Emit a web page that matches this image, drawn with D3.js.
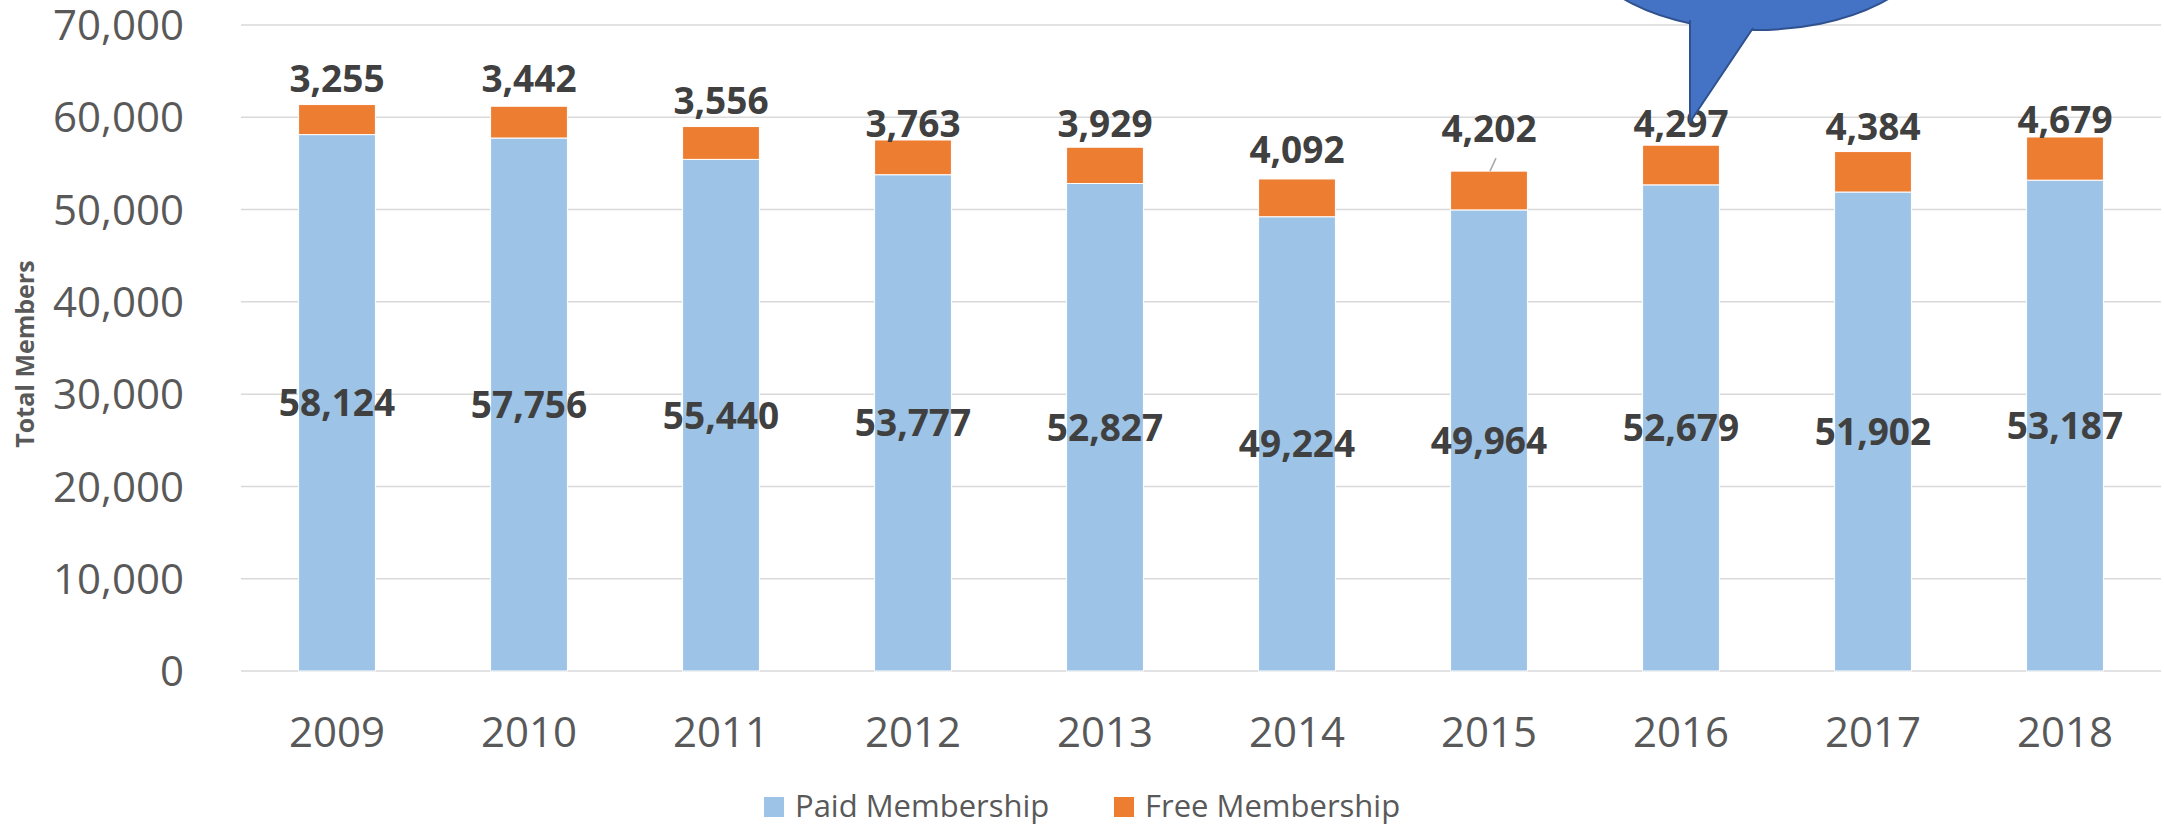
<!DOCTYPE html>
<html>
<head>
<meta charset="utf-8">
<script src="https://cdn.jsdelivr.net/npm/d3@7"></script>
<style>
    body { margin: 0; background: white; }
    svg { display: block; font-family: "Open Sans", Arial, sans-serif; }
</style>
</head>
<body>
<div id="chart"></div>
<script>
// Chart data
const years = ["2009", "2010", "2011", "2012", "2013", "2014", "2015", "2016", "2017", "2018"];
const paidMembership = [58124, 57756, 55440, 53777, 52827, 49224, 49964, 52679, 51902, 53187];
const freeMembership = [3255, 3442, 3556, 3763, 3929, 4092, 4202, 4297, 4384, 4679];
const yTicks = [0, 10000, 20000, 30000, 40000, 50000, 60000, 70000];
const seriesNames = ["Paid Membership", "Free Membership"];

const width = 2164;
const height = 827;
const margin = { top: 25, right: 3, bottom: 156, left: 241 };

const paidColor = "#9DC3E6";
const freeColor = "#ED7D31";

// how far each free label sits above its bar (labels were moved by hand)
const labelGap = { "2009": 13, "2010": 14, "2011": 13, "2012": 3, "2013": 10,
                   "2014": 16, "2015": 29, "2016": 8, "2017": 12, "2018": 4 };

const svg = d3.select("#chart")
    .append("svg")
    .attr("width", width)
    .attr("height", height);

const x = d3.scaleBand()
    .domain(years)
    .range([margin.left, width - margin.right])
    .paddingInner(0.6)
    .paddingOuter(0.3);

const y = d3.scaleLinear()
    .domain([0, 70000])
    .range([height - margin.bottom, margin.top]);

const fmt = d3.format(",");

// Gridlines
svg.append("g")
    .selectAll("line")
    .data(yTicks)
    .join("line")
    .attr("x1", margin.left)
    .attr("x2", width - margin.right)
    .attr("y1", d => y(d))
    .attr("y2", d => y(d))
    .attr("stroke", "#D9D9D9")
    .attr("stroke-width", 1.5);

// Y axis labels
svg.append("g")
    .selectAll("text")
    .data(yTicks)
    .join("text")
    .attr("x", 184)
    .attr("y", d => y(d))
    .attr("dy", "0.36em")
    .attr("text-anchor", "end")
    .style("font-size", "42px")
    .style("fill", "#595959")
    .text(d => fmt(d));

// Y axis title
svg.append("text")
    .attr("transform", "translate(34," + 354 + ") rotate(-90)")
    .attr("text-anchor", "middle")
    .style("font-size", "25px")
    .style("font-weight", "bold")
    .style("fill", "#595959")
    .text("Total Members");

// Stacked bars
const rows = years.map((yr, i) => ({ year: yr, paid: paidMembership[i], free: freeMembership[i] }));
const stack = d3.stack().keys(["paid", "free"])(rows);
const colors = [paidColor, freeColor];

svg.append("g")
    .selectAll("g")
    .data(stack)
    .join("g")
    .attr("fill", (d, i) => colors[i])
    .selectAll("rect")
    .data(d => d)
    .join("rect")
    .attr("x", d => x(d.data.year))
    .attr("width", x.bandwidth())
    .attr("y", d => y(d[1]))
    .attr("height", d => y(d[0]) - y(d[1]))
    .attr("stroke", "white")
    .attr("stroke-width", 1);

// X axis labels
svg.append("g")
    .selectAll("text")
    .data(years)
    .join("text")
    .attr("x", d => x(d) + x.bandwidth() / 2)
    .attr("y", 747)
    .attr("text-anchor", "middle")
    .style("font-size", "42px")
    .style("fill", "#595959")
    .text(d => d);

// Paid labels, centred in the paid segment
svg.append("g")
    .selectAll("text")
    .data(rows)
    .join("text")
    .attr("x", d => x(d.year) + x.bandwidth() / 2)
    .attr("y", d => y(d.paid / 2))
    .attr("dy", "0.36em")
    .attr("text-anchor", "middle")
    .style("font-size", "37px")
    .style("font-weight", "bold")
    .style("fill", "#404040")
    .text(d => fmt(d.paid));

// Free labels, above the bar
svg.append("g")
    .selectAll("text")
    .data(rows)
    .join("text")
    .attr("x", d => x(d.year) + x.bandwidth() / 2)
    .attr("y", d => y(d.paid + d.free) - labelGap[d.year])
    .attr("text-anchor", "middle")
    .style("font-size", "37px")
    .style("font-weight", "bold")
    .style("fill", "#404040")
    .text(d => fmt(d.free));

// Leader line for 2015 label
const r2015 = rows.find(d => d.year === "2015");
const cx2015 = x("2015") + x.bandwidth() / 2;
svg.append("line")
    .attr("x1", cx2015 + 1)
    .attr("y1", y(r2015.paid + r2015.free))
    .attr("x2", cx2015 + 7)
    .attr("y2", y(r2015.paid + r2015.free) - 13)
    .attr("stroke", "#A6A6A6")
    .attr("stroke-width", 1.5);

// Callout bubble pointing at 2016 label
const cx2016 = x("2016") + x.bandwidth() / 2;
const bubble = svg.append("g");
bubble.append("ellipse")
    .attr("cx", cx2016 + 75)
    .attr("cy", -60)
    .attr("rx", 175)
    .attr("ry", 90)
    .attr("fill", "#4472C4")
    .attr("stroke", "#2F528F")
    .attr("stroke-width", 2);
bubble.append("path")
    .attr("d", "M" + (cx2016 + 9) + ",20 L" + (cx2016 + 9) + ",122 L" + (cx2016 + 72) + ",28")
    .attr("fill", "#4472C4")
    .attr("stroke", "#2F528F")
    .attr("stroke-width", 2);
// cover the seam between pointer and ellipse
bubble.append("path")
    .attr("d", "M" + (cx2016 + 11) + ",14 L" + (cx2016 + 11) + ",40 L" + (cx2016 + 70) + ",24 Z")
    .attr("fill", "#4472C4");

// Legend
const legend = svg.append("g");
const legendX = [764, 1114];
seriesNames.forEach((name, i) => {
    legend.append("rect")
        .attr("x", legendX[i])
        .attr("y", 797)
        .attr("width", 20)
        .attr("height", 20)
        .attr("fill", colors[i]);
    legend.append("text")
        .attr("x", legendX[i] + 31)
        .attr("y", 817)
        .style("font-size", "31px")
        .style("fill", "#595959")
        .text(name);
});
</script>
</body>
</html>
